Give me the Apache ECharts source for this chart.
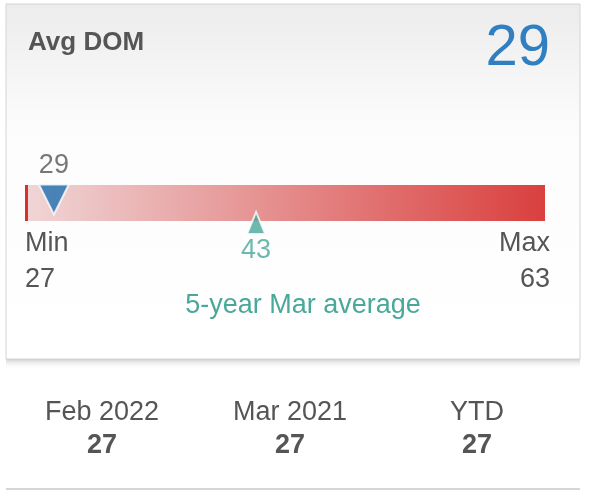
<!DOCTYPE html>
<html><head><meta charset="utf-8">
<script src="https://cdn.jsdelivr.net/npm/echarts@6/dist/echarts.min.js"></script>
<style>html,body{margin:0;background:#fff}#c{width:590px;height:498px}</style>
</head><body><div id="c"></div>
<script>
var title = 'Avg DOM';
var current = 29;
var minVal = 27, maxVal = 63;
var avgVal = 43;
var avgLabel = '5-year Mar average';
var periods = ['Feb 2022', 'Mar 2021', 'YTD'];
var periodVals = [27, 27, 27];

var font = 'Liberation Sans, Arial, sans-serif';
var chart = echarts.init(document.getElementById('c'));
var graphics = [
    {type: 'rect', shape: {x: 6, y: 4, width: 574, height: 355}, z: -10,
     style: {fill: new echarts.graphic.LinearGradient(0, 0, 0, 1, [
        {offset: 0, color: '#ececec'}, {offset: 0.35, color: '#fcfcfc'}, {offset: 1, color: '#ffffff'}]),
        stroke: '#d4d4d4', lineWidth: 1}},
    {type: 'rect', shape: {x: 6, y: 359, width: 574, height: 10}, z: -10,
     style: {fill: new echarts.graphic.LinearGradient(0, 0, 0, 1, [
        {offset: 0, color: '#d0d0d0'}, {offset: 1, color: 'rgba(255,255,255,0)'}])}},
    {type: 'rect', shape: {x: 6, y: 488, width: 574, height: 2}, style: {fill: '#d6d6d6'}},
    {type: 'text', x: 28, y: 30, style: {text: title, font: 'bold 26px ' + font, fill: '#555'}},
    {type: 'text', x: 550, y: 20, style: {text: String(current), font: '58px ' + font, fill: '#2f7fc1', align: 'right'}},
    {type: 'rect', shape: {x: 25, y: 185, width: 3, height: 36}, z: 5, style: {fill: '#d9302f'}},
    {type: 'text', x: 25, y: 226, style: {text: 'Min\n' + minVal, font: '27px ' + font, fill: '#555', lineHeight: 36}},
    {type: 'text', x: 550, y: 226, style: {text: 'Max\n' + maxVal, font: '27px ' + font, fill: '#555', align: 'right', lineHeight: 36}},
    {type: 'text', x: 303, y: 292, style: {text: avgLabel, font: '27px ' + font, fill: '#4aa89a', align: 'center'}}
];
var colX = [102, 290, 477];
periods.forEach(function (p, i) {
    graphics.push({type: 'text', x: colX[i], y: 399, style: {text: p, font: '27px ' + font, fill: '#555', align: 'center'}});
    graphics.push({type: 'text', x: colX[i], y: 432, style: {text: String(periodVals[i]), font: 'bold 27px ' + font, fill: '#555', align: 'center'}});
});

chart.setOption({
    animation: false,
    grid: {left: 25, right: 45, top: 185, height: 36},
    xAxis: {type: 'value', min: minVal, max: maxVal, show: false},
    yAxis: {type: 'value', min: 0, max: 1, show: false},
    graphic: graphics,
    series: [{
        type: 'scatter',
        data: [],
        markArea: {
            silent: true,
            itemStyle: {color: new echarts.graphic.LinearGradient(0, 0, 1, 0, [
                {offset: 0, color: '#f0d6d7'}, {offset: 1, color: '#d9403e'}])},
            data: [[{coord: [minVal, 0]}, {coord: [maxVal, 1]}]]
        }
    }, {
        type: 'scatter',
        z: 10,
        symbol: 'triangle',
        symbolRotate: 180,
        symbolSize: [30, 30],
        itemStyle: {color: '#1f6fb2', borderColor: '#fff', borderWidth: 2},
        label: {show: true, position: 'top', distance: 4, formatter: String(current),
            fontSize: 27, fontFamily: font, color: '#555'},
        data: [[current, 0.6]]
    }, {
        type: 'scatter',
        z: 10,
        symbol: 'triangle',
        symbolSize: [18, 22],
        symbolOffset: [0, 2],
        itemStyle: {color: '#4aa89a', borderColor: '#fff', borderWidth: 2},
        label: {show: true, position: 'bottom', distance: 2, formatter: String(avgVal),
            fontSize: 27, fontFamily: font, color: '#4aa89a'},
        data: [[avgVal, 0]]
    }]
});
</script></body></html>
